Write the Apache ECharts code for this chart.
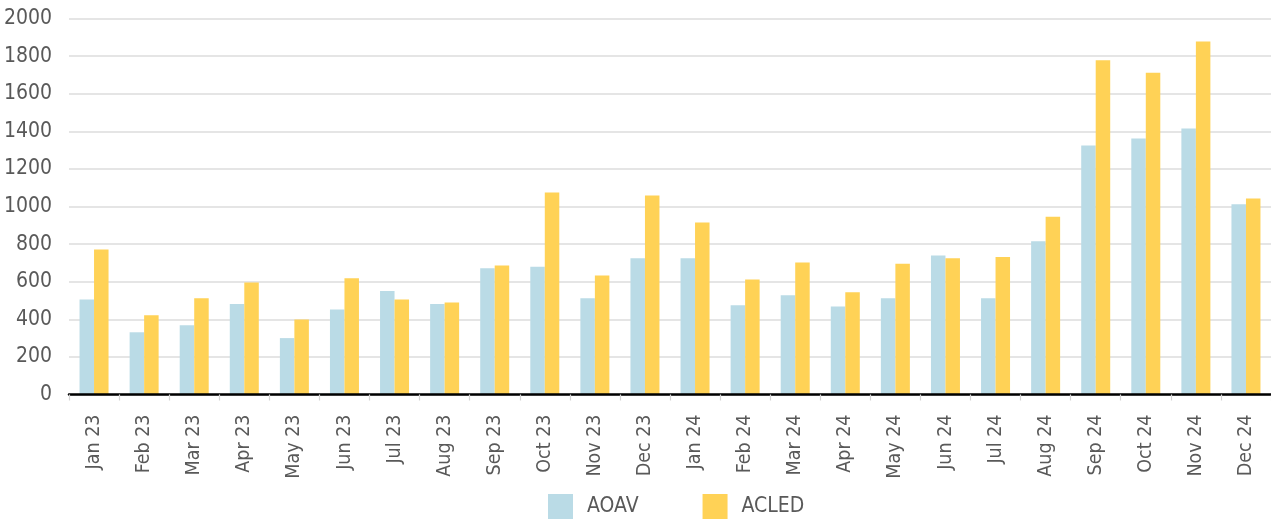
<!DOCTYPE html>
<html>
<head>
<meta charset="utf-8">
<script src="https://cdn.jsdelivr.net/npm/echarts@6/dist/echarts.min.js"></script>
<style>
  html, body { margin: 0; padding: 0; background: #ffffff; }
  #chart { width: 1271px; height: 519px; }
</style>
</head>
<body>
<div id="chart"></div>
<script>
// Monthly incident counts, Jan 2023 - Dec 2024
const months = [
  'Jan 23', 'Feb 23', 'Mar 23', 'Apr 23', 'May 23', 'Jun 23',
  'Jul 23', 'Aug 23', 'Sep 23', 'Oct 23', 'Nov 23', 'Dec 23',
  'Jan 24', 'Feb 24', 'Mar 24', 'Apr 24', 'May 24', 'Jun 24',
  'Jul 24', 'Aug 24', 'Sep 24', 'Oct 24', 'Nov 24', 'Dec 24'
];
const aoav = [
  505, 331, 369, 482, 300, 452, 550, 482, 672, 679, 512, 725,
  725, 475, 528, 468, 512, 739, 512, 815, 1324, 1362, 1415, 1012
];
const acled = [
  771, 422, 512, 596, 399, 619, 505, 489, 686, 1074, 633, 1058,
  915, 612, 702, 544, 695, 725, 732, 945, 1778, 1711, 1878, 1043
];
const yTicks = { min: 0, max: 2000, interval: 200 };

const FONT = '"Liberation Sans Narrow", "DejaVu Sans Condensed", "Roboto", sans-serif';
const TEXT = '#595959';

const chart = echarts.init(document.getElementById('chart'), null, { renderer: 'canvas' });
chart.setOption({
  animation: false,
  backgroundColor: '#ffffff',
  textStyle: { fontFamily: FONT },
  grid: {
    left: 69, right: 0, top: 18.5, bottom: 124.5,
    containLabel: false, outerBoundsMode: 'none'
  },
  legend: {
    left: 548, top: 494, padding: 0,
    itemWidth: 25, itemHeight: 25, itemGap: 64,
    icon: 'rect',
    textStyle: { fontFamily: FONT, fontSize: 21, color: TEXT, padding: [0, 0, 0, 9] },
    data: ['AOAV', 'ACLED']
  },
  xAxis: {
    type: 'category',
    data: months,
    z: 5,
    axisLine: { lineStyle: { color: '#000000', width: 2.5 } },
    axisTick: { show: true, length: 6, lineStyle: { color: '#d4d4d4', width: 1.2 } },
    axisLabel: { rotate: 90, margin: 20, fontSize: 19.5, color: TEXT, fontFamily: FONT, interval: 0 }
  },
  yAxis: {
    type: 'value',
    min: yTicks.min, max: yTicks.max, interval: yTicks.interval,
    axisLine: { show: false },
    axisTick: { show: false },
    axisLabel: {
      margin: 17, fontSize: 21, color: TEXT, fontFamily: FONT,
      formatter: (v) => String(v)
    },
    splitLine: { lineStyle: { color: '#dcdcdc', width: 1.5 } }
  },
  series: [
    {
      name: 'AOAV', type: 'bar', data: aoav,
      barWidth: 14.5, barGap: '0%',
      itemStyle: { color: '#badbe6' }
    },
    {
      name: 'ACLED', type: 'bar', data: acled,
      barWidth: 14.5, barGap: '0%',
      itemStyle: { color: '#ffd256' }
    }
  ]
});
</script>
</body>
</html>
